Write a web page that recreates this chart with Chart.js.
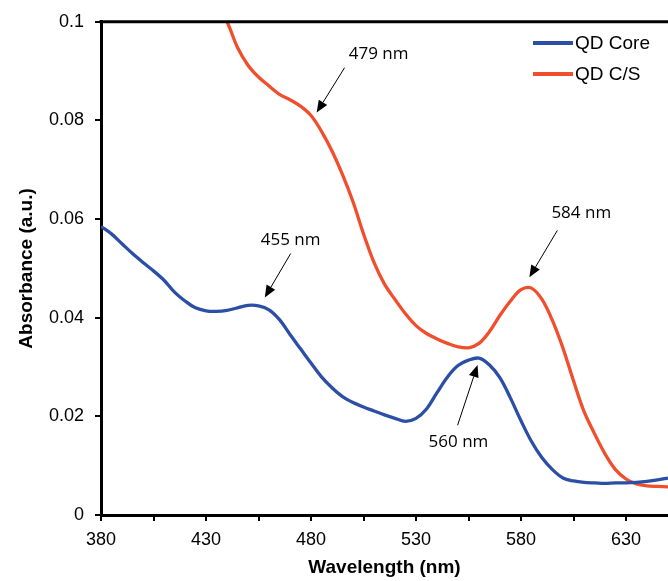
<!DOCTYPE html>
<html>
<head>
<meta charset="utf-8">
<script src="https://cdn.jsdelivr.net/npm/chart.js@4.4.1/dist/chart.umd.min.js"></script>
<style>
  html, body { margin: 0; padding: 0; background: #fff; }
  #wrap { width: 668px; height: 581px; }
</style>
</head>
<body>
<div id="wrap"><canvas id="absChart" width="668" height="581"></canvas></div>
<script>
// QD Core spectrum
const coreWavelengths = [380, 385, 390, 395, 400, 405, 410, 415, 420, 425, 430, 435, 440, 445, 450, 455, 460, 465, 470, 475,
  480, 485, 490, 495, 500, 505, 510, 515, 520, 525, 530, 535, 540, 545, 550, 555, 560, 565, 570, 575,
  580, 585, 590, 595, 600, 605, 610, 615, 620, 625, 630, 635, 640, 645, 650];
const coreAbs = [0.0585, 0.0570, 0.0550, 0.0530, 0.0512, 0.0495, 0.0476, 0.0452, 0.0434, 0.0420, 0.0414, 0.0413, 0.0415, 0.0420, 0.0425, 0.0424, 0.0416, 0.0396, 0.0366, 0.0337,
  0.0308, 0.0280, 0.0258, 0.0240, 0.0228, 0.0219, 0.0211, 0.0203, 0.0196, 0.0190, 0.0196, 0.0215, 0.0248, 0.0280, 0.0303, 0.0314, 0.0318, 0.0304, 0.0278, 0.0237,
  0.0191, 0.0149, 0.0116, 0.0092, 0.0075, 0.0069, 0.0066, 0.0065, 0.0064, 0.0065, 0.0065, 0.0066, 0.0068, 0.0071, 0.0075];

// QD C/S spectrum (starts above the top of the axis)
const csWavelengths = [435, 440, 445, 450, 455, 460, 465, 470, 475, 480, 485, 490, 495, 500, 505, 510, 515, 520, 525, 530,
  535, 540, 545, 550, 555, 560, 565, 570, 575, 580, 585, 590, 595, 600, 605, 610, 615, 620, 625, 630,
  635, 640, 645, 650];
const csAbs = [0.1035, 0.1000, 0.0948, 0.0912, 0.0888, 0.0870, 0.0853, 0.0842, 0.0829, 0.0810, 0.0778, 0.0738, 0.0690, 0.0635, 0.0570, 0.0512, 0.0468, 0.0437, 0.0408, 0.0384,
  0.0368, 0.0357, 0.0348, 0.0341, 0.0339, 0.0348, 0.0372, 0.0405, 0.0434, 0.0457, 0.0460, 0.0437, 0.0394, 0.0338, 0.0272, 0.0210, 0.0165, 0.0124, 0.0092, 0.0073,
  0.0063, 0.0059, 0.0058, 0.0057];

const seriesLabels = ['QD Core', 'QD C/S'];
const seriesColors = ['#2b4fa6', '#f04e2c'];

const xMajorTicks = [380, 430, 480, 530, 580, 630];
const xMinorTicks = [405, 455, 505, 555, 605];
const yTicks = [0, 0.02, 0.04, 0.06, 0.08, 0.1];
const yTickLabels = ['0', '0.02', '0.04', '0.06', '0.08', '0.1'];

// peak labels: text at (tx, ty), arrow from (fx, fy) to tip (ax, ay), all in data units
const peakTexts = ['455 nm', '479 nm', '560 nm', '584 nm'];
const peakTextPos = [[470.3, 0.0557], [512.2, 0.0935], [550.2, 0.0148], [608.7, 0.0611]];
const peakArrowFrom = [[470.3, 0.0530], [496.0, 0.0907], [549.8, 0.0182], [597.3, 0.0577]];
const peakArrowTip = [[458.0, 0.0441], [482.7, 0.0816], [559.3, 0.0304], [584.0, 0.0482]];

const tickFont = { family: "'Liberation Sans', Arial, sans-serif", size: 18 };
const titleFont = { family: "'Liberation Sans', Arial, sans-serif", size: 19, weight: 'bold' };

function drawArrow(ctx, x1, y1, x2, y2) {
  const ang = Math.atan2(y2 - y1, x2 - x1);
  const len = 12, half = 5;
  const bx = x2 - len * Math.cos(ang), by = y2 - len * Math.sin(ang);
  ctx.beginPath();
  ctx.moveTo(x1, y1);
  ctx.lineTo(bx, by);
  ctx.stroke();
  ctx.beginPath();
  ctx.moveTo(x2, y2);
  ctx.lineTo(bx + half * Math.sin(ang), by - half * Math.cos(ang));
  ctx.lineTo(bx - half * Math.sin(ang), by + half * Math.cos(ang));
  ctx.closePath();
  ctx.fill();
}

const extrasPlugin = {
  id: 'extras',
  afterDraw(chart) {
    const { ctx, chartArea } = chart;
    const xs = chart.scales.x, ys = chart.scales.y;
    ctx.save();
    // top frame line
    ctx.strokeStyle = '#000';
    ctx.lineWidth = 3;
    ctx.beginPath();
    ctx.moveTo(chartArea.left - 1.5, chartArea.top);
    ctx.lineTo(chartArea.right, chartArea.top);
    ctx.stroke();

    // peak annotations
    ctx.fillStyle = '#000';
    ctx.strokeStyle = '#000';
    ctx.lineWidth = 1;
    ctx.font = "17px 'Open Sans', sans-serif";
    ctx.textAlign = 'center';
    ctx.textBaseline = 'middle';
    peakTexts.forEach((t, i) => {
      ctx.fillText(t, xs.getPixelForValue(peakTextPos[i][0]), ys.getPixelForValue(peakTextPos[i][1]));
      drawArrow(ctx,
        xs.getPixelForValue(peakArrowFrom[i][0]), ys.getPixelForValue(peakArrowFrom[i][1]),
        xs.getPixelForValue(peakArrowTip[i][0]), ys.getPixelForValue(peakArrowTip[i][1]));
    });

    // legend
    ctx.font = "19px 'Liberation Sans', Arial, sans-serif";
    ctx.textAlign = 'left';
    seriesLabels.forEach((lab, i) => {
      const y = 43 + i * 31;
      ctx.strokeStyle = seriesColors[i];
      ctx.lineWidth = 4;
      ctx.beginPath();
      ctx.moveTo(533, y);
      ctx.lineTo(573, y);
      ctx.stroke();
      ctx.fillStyle = '#000';
      ctx.fillText(lab, 575, y + 1);
    });
    ctx.restore();
  }
};

new Chart(document.getElementById('absChart').getContext('2d'), {
  type: 'line',
  data: {
    datasets: [
      {
        label: seriesLabels[0],
        data: coreWavelengths.map((w, i) => ({ x: w, y: coreAbs[i] })),
        borderColor: seriesColors[0],
        borderWidth: 3.3,
        pointRadius: 0,
        tension: 0.35,
        fill: false
      },
      {
        label: seriesLabels[1],
        data: csWavelengths.map((w, i) => ({ x: w, y: csAbs[i] })),
        borderColor: seriesColors[1],
        borderWidth: 3.3,
        pointRadius: 0,
        tension: 0.35,
        fill: false
      }
    ]
  },
  options: {
    responsive: false,
    animation: false,
    devicePixelRatio: 1,
    layout: { padding: { top: 21, right: 0, left: 0, bottom: 0 } },
    plugins: {
      legend: { display: false },
      tooltip: { enabled: false }
    },
    scales: {
      x: {
        type: 'linear',
        min: 380,
        max: 650,
        afterBuildTicks: (scale) => {
          scale.ticks = xMajorTicks.concat(xMinorTicks).sort((a, b) => a - b).map(v => ({ value: v }));
        },
        afterFit: (scale) => { scale.height = 66; },
        ticks: {
          autoSkip: false,
          maxRotation: 0,
          padding: 8,
          color: '#000',
          font: tickFont,
          callback: (v) => xMajorTicks.includes(v) ? String(v) : ''
        },
        grid: { drawOnChartArea: false, drawTicks: true, tickLength: 6, color: '#000', lineWidth: 2 },
        border: { color: '#000', width: 3 },
        title: { display: true, text: 'Wavelength (nm)', color: '#000', font: titleFont, padding: { top: 0, bottom: 2 } }
      },
      y: {
        type: 'linear',
        min: 0,
        max: 0.1,
        afterBuildTicks: (scale) => {
          scale.ticks = yTicks.map(v => ({ value: v }));
        },
        afterFit: (scale) => { scale.width = 101; },
        ticks: {
          padding: 11,
          color: '#000',
          font: tickFont,
          callback: (v, i) => yTickLabels[i]
        },
        grid: { drawOnChartArea: false, drawTicks: true, tickLength: 6, color: '#000', lineWidth: 2 },
        border: { color: '#000', width: 3 },
        title: { display: true, text: 'Absorbance (a.u.)', color: '#000', font: titleFont, padding: { top: 15, bottom: 0 } }
      }
    }
  },
  plugins: [extrasPlugin]
});
</script>
</body>
</html>
